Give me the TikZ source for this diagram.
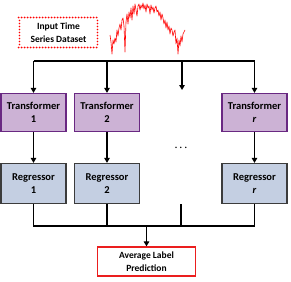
\documentclass[tikz,border=0pt]{standalone}
\usepackage{fontspec}
\setmainfont{Carlito}
\usetikzlibrary{arrows.meta}
\definecolor{tfill}{RGB}{204,178,213}
\definecolor{tdraw}{RGB}{105,40,130}
\definecolor{rfill}{RGB}{196,207,226}
\definecolor{rdraw}{RGB}{60,60,60}
\definecolor{redc}{RGB}{235,30,30}
\begin{document}
\begin{tikzpicture}[x=1pt,y=-1pt,
  tbox/.style={draw=tdraw,fill=tfill,line width=1.3pt,minimum width=65pt,minimum height=38pt,inner sep=0pt,align=center,font=\bfseries\fontsize{10.5}{12.5}\selectfont},
  rbox/.style={draw=rdraw,fill=rfill,line width=1.2pt,minimum width=65pt,minimum height=40pt,inner sep=0pt,align=center,font=\bfseries\fontsize{10.5}{12.5}\selectfont},
  bus/.style={line width=1.4pt,black},
  arr/.style={line width=1.4pt,black,-{Triangle[length=5pt,width=5.5pt]}},
  reddot/.style={fill=red}]
\useasboundingbox (0,0) rectangle (291,281);
% input dataset label
\node[inner sep=0pt,minimum width=78pt,minimum height=30pt,align=center,font=\bfseries\fontsize{9.5}{12.5}\selectfont] (inp) at (58.5,32.5) {Input Time\\Series Dataset};
% dotted red border drawn as dots
\foreach \i in {0,...,26} {
  \fill[reddot] (19.5+\i*3-0.9,17.5) circle[radius=0.95];
  \fill[reddot] (19.5+\i*3-0.9,47.5) circle[radius=0.95];
}
\foreach \j in {1,...,9} {
  \fill[reddot] (19.5,17.5+\j*3) circle[radius=0.95];
  \fill[reddot] (97.5,17.5+\j*3) circle[radius=0.95];
}
% time series
\draw[red,line width=0.6pt,line join=round] plot coordinates {
(110,35)(111,42)(112,54)(113,40)(114,44)(115,38)(116,42)(117,30)(118,36)(119,28)
(120,24)(121,30)(122,20)(123,18)(124,26)(125,52)(126,22)(127,14)(128,24)(129,12)
(130,18)(131,8)(132,20)(133,6)(134,14)(135,4)(136,10)(137,16)(138,6)(139,4)
(140,10)(141,5)(142,8)(143,3)(144,9)(145,5)(146,12)(147,4)(148,8)(149,6)
(150,14)(151,5)(152,10)(153,7)(154,13)(155,8)(156,6)(157,12)(158,10)(159,16)
(160,12)(161,20)(162,14)(163,18)(164,24)(165,20)(166,28)(167,22)(168,30)(169,26)
(170,34)(171,28)(172,30)(173,36)(174,32)(175,30)(176,44)(177,38)(178,54)(179,40)
(180,46)(181,36)(182,42)(183,34)(184,32)(185,30)};
% transformers
\node[tbox] (t1) at (33.5,112.5) {Transformer\\1};
\node[tbox] (t2) at (107,112.5) {Transformer\\2};
\node[tbox] (tr) at (254.5,112.5) {Transformer\\\textit{r}};
% regressors
\node[rbox] (r1) at (33.5,183.5) {Regressor\\1};
\node[rbox] (r2) at (107,183.5) {Regressor\\2};
\node[rbox] (rr) at (254.5,183.5) {Regressor\\\textit{r}};
% dots
\node[font=\fontsize{14}{14}\selectfont] (dots) at (181,148) {$\cdot\!\cdot\!\cdot$};
% output
\node[draw=redc,fill=white,line width=1.3pt,minimum width=98pt,minimum height=29pt,inner sep=0pt,align=center,font=\bfseries\fontsize{9.5}{12.5}\selectfont] (avg) at (146.5,261.5) {Average Label\\Prediction};
% top bus
\coordinate (b1) at (t1.north |- 0,61);
\coordinate (b2) at (t2.north |- 0,61);
\coordinate (b3) at (182,61);
\coordinate (b4) at (tr.north |- 0,61);
\coordinate (e3) at (182,90);
\draw[bus] (b1) -- (b4);
\draw[arr] (b1) -- (t1.north);
\draw[arr] (b2) -- (t2.north);
\draw[arr] (b3) -- (e3);
\draw[arr] (b4) -- (tr.north);
% middle arrows
\draw[arr] (t1.south) -- (r1.north);
\draw[arr] (t2.south) -- (r2.north);
\draw[arr] (tr.south) -- (rr.north);
% bottom bus
\coordinate (c1) at (r1.south |- 0,226);
\coordinate (c2) at (r2.south |- 0,226);
\coordinate (c3) at (181,226);
\coordinate (s3) at (181,204);
\coordinate (c4) at (rr.south |- 0,226);
\coordinate (cm) at (avg.north |- 0,226);
\draw[bus] (r1.south) -- (c1) -- (c4) -- (rr.south);
\draw[bus] (r2.south) -- (c2);
\draw[bus] (s3) -- (c3);
\draw[arr] (cm) -- (avg.north);
\end{tikzpicture}
\end{document}
